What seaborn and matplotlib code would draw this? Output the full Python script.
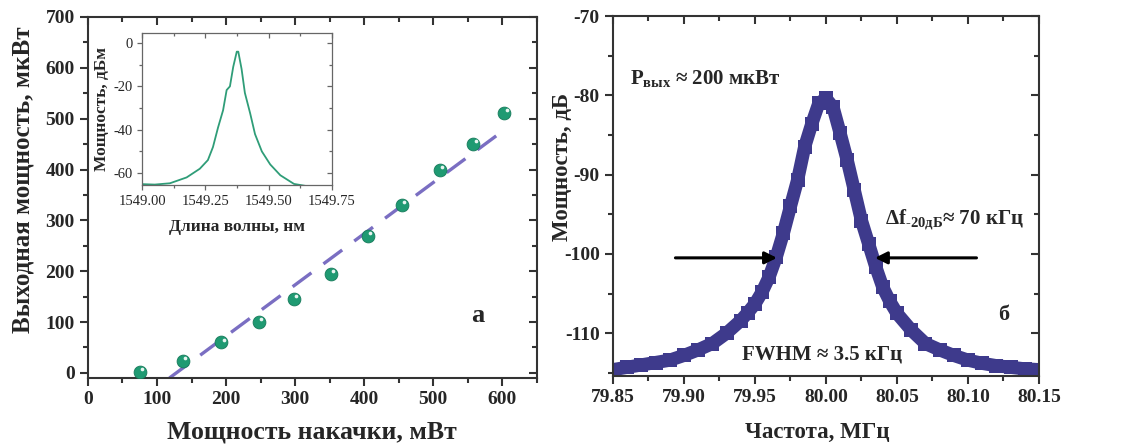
import numpy as np
import pandas as pd
import matplotlib
matplotlib.use("Agg")
import matplotlib.pyplot as plt
import matplotlib.transforms as mtransforms
from matplotlib.ticker import MultipleLocator
import seaborn as sns

# ---------------- data ----------------
pump_mw = [75, 137, 193, 247, 298, 352, 405, 455, 510, 558, 603]
out_uw = [2, 23, 60, 100, 145, 195, 270, 330, 400, 450, 511]
fit_x = [118, 605]
fit_y = [-10, 480]

inset_wl = [1549.00, 1549.05, 1549.11, 1549.176, 1549.228, 1549.26, 1549.28, 1549.30,
            1549.32, 1549.334, 1549.347, 1549.36, 1549.374, 1549.38, 1549.393, 1549.406,
            1549.427, 1549.446, 1549.473, 1549.506, 1549.546, 1549.60, 1549.65, 1549.75]
inset_db = [-65.1, -65.3, -64.7, -62, -58, -54, -48, -39,
            -31, -21.7, -20, -11, -4, -4, -12, -23,
            -32.5, -42, -50, -56, -61, -65, -66, -66]

freq_mhz = [79.850, 79.860, 79.870, 79.880, 79.890, 79.900, 79.910, 79.920, 79.930,
            79.940, 79.945, 79.950, 79.955, 79.960, 79.965, 79.970, 79.975, 79.980,
            79.985, 79.990, 79.995, 80.000, 80.005, 80.010, 80.015, 80.020, 80.025,
            80.030, 80.035, 80.040, 80.045, 80.050, 80.060, 80.070, 80.080, 80.090,
            80.100, 80.110, 80.120, 80.130, 80.140, 80.150]
power_db = [-114.6, -114.3, -114.0, -113.7, -113.4, -112.8, -112.1, -111.3, -110.0,
            -108.4, -107.4, -106.3, -104.8, -102.9, -100.4, -97.4, -94.0, -90.7,
            -86.5, -83.6, -81.0, -80.4, -81.5, -84.8, -88.2, -92.0, -95.8,
            -98.7, -101.6, -104.2, -106.0, -107.5, -109.6, -111.3, -112.1, -112.8,
            -113.4, -113.8, -114.1, -114.3, -114.5, -114.6]

left_xticks = [0, 100, 200, 300, 400, 500, 600]
left_yticks = [0, 100, 200, 300, 400, 500, 600, 700]
inset_xticks = [1549.00, 1549.25, 1549.50, 1549.75]
inset_yticks = [0, -20, -40, -60]
right_xticks = [79.85, 79.90, 79.95, 80.00, 80.05, 80.10, 80.15]
right_yticks = [-70, -80, -90, -100, -110]

# ---------------- style ----------------
sns.set_style("ticks")
plt.rcParams['font.family'] = ['Liberation Serif', 'DejaVu Serif']
plt.rcParams['axes.unicode_minus'] = False
plt.rcParams['mathtext.fontset'] = 'custom'
plt.rcParams['mathtext.rm'] = 'Liberation Serif:bold'
plt.rcParams['mathtext.it'] = 'Liberation Serif:bold'
plt.rcParams['mathtext.bf'] = 'Liberation Serif:bold'

GREEN = '#1f9a72'
PURPLE = '#7a6ec2'
NAVY = '#3e3a8c'
INSET_GREEN = '#2f9d78'

fig = plt.figure(figsize=(11.22, 4.47), dpi=100)
axL = fig.add_axes([0.0784, 0.1544, 0.400, 0.8076])
axR = fig.add_axes([0.5463, 0.1588, 0.3797, 0.8054])
axI = fig.add_axes([0.1266, 0.5861, 0.1693, 0.340])


def style_axes(ax, lw=1.5, color='#333333', major=6, minor=3.5):
    for s in ax.spines.values():
        s.set_linewidth(lw)
        s.set_color(color)
        s.set_visible(True)
    ax.tick_params(which='both', direction='out', top=False, right=False,
                   width=lw, color=color)
    ax.tick_params(which='major', length=major)
    ax.tick_params(which='minor', length=minor)
    ax2x = ax.secondary_xaxis('top')
    ax2y = ax.secondary_yaxis('right')
    for a in (ax2x, ax2y):
        a.tick_params(which='both', direction='in', width=lw, color=color,
                      labeltop=False, labelright=False)
        a.tick_params(which='major', length=major)
        a.tick_params(which='minor', length=minor)
        a.spines[:].set_visible(False)
    ax2x.set_xticks(ax.get_xticks())
    ax2x.set_xticklabels([])
    ax2y.set_yticks(ax.get_yticks())
    ax2y.set_yticklabels([])
    ax2x.xaxis.set_minor_locator(ax.xaxis.get_minor_locator())
    ax2y.yaxis.set_minor_locator(ax.yaxis.get_minor_locator())


# ---------------- left panel ----------------
df_pts = pd.DataFrame({'pump': pump_mw, 'out': out_uw})
df_fit = pd.DataFrame({'x': fit_x, 'y': fit_y})
sns.lineplot(data=df_fit, x='x', y='y', ax=axL, color=PURPLE, linewidth=2.4,
             dashes=False, zorder=2)
axL.lines[-1].set_dashes([7, 4.5])
sns.scatterplot(data=df_pts, x='pump', y='out', ax=axL, color=GREEN, s=85,
                edgecolor='#167a5a', linewidth=0.6, zorder=3)
hl = mtransforms.offset_copy(axL.transData, fig=fig, x=1.7, y=2.0, units='points')
axL.scatter(df_pts['pump'], df_pts['out'], s=7, color='white', alpha=0.9,
            transform=hl, zorder=4, linewidths=0)
axL.set_xlim(0, 650)
axL.set_ylim(-10, 700)
axL.set_xticks(left_xticks)
axL.set_yticks(left_yticks)
axL.xaxis.set_minor_locator(MultipleLocator(50))
axL.yaxis.set_minor_locator(MultipleLocator(50))
axL.tick_params(labelsize=14)
for lab in axL.get_xticklabels() + axL.get_yticklabels():
    lab.set_fontweight('bold')
axL.set_xlabel('Мощность накачки, мВт', fontsize=18.5, fontweight='bold', va='center')
axL.set_ylabel('Выходная мощность, мкВт', fontsize=18, fontweight='bold', va='center')
axL.xaxis.set_label_coords(0.5, -0.15)
axL.yaxis.set_label_coords(-0.145, 0.55)
axL.text(565, 112, 'а', fontsize=19, fontweight='bold', ha='center', va='center')
style_axes(axL)

# ---------------- inset ----------------
df_in = pd.DataFrame({'wl': inset_wl, 'db': inset_db})
sns.lineplot(data=df_in, x='wl', y='db', ax=axI, color=INSET_GREEN, linewidth=1.3)
axI.set_xlim(1549.0, 1549.75)
axI.set_ylim(-65.5, 4.6)
axI.set_xticks(inset_xticks)
axI.set_xticklabels(['1549.00', '1549.25', '1549.50', '1549.75'])
axI.set_yticks(inset_yticks)
axI.xaxis.set_minor_locator(MultipleLocator(0.125))
axI.yaxis.set_minor_locator(MultipleLocator(10))
axI.tick_params(labelsize=10.5)
axI.set_xlabel('Длина волны, нм', fontsize=12.5, fontweight='bold', labelpad=8)
axI.set_ylabel('Мощность, дБм', fontsize=12.5, fontweight='bold', labelpad=2)
style_axes(axI, lw=0.9, color='#666666', major=3.5, minor=2)

# ---------------- right panel ----------------
df_r = pd.DataFrame({'f': freq_mhz, 'p': power_db})
sns.lineplot(data=df_r, x='f', y='p', ax=axR, color=NAVY, linewidth=9.5,
             marker='s', markersize=9.5, markeredgewidth=0, zorder=2)
axR.set_xlim(79.85, 80.15)
axR.set_ylim(-115.4, -70)
axR.set_xticks(right_xticks)
axR.set_xticklabels(['79.85', '79.90', '79.95', '80.00', '80.05', '80.10', '80.15'])
axR.set_yticks(right_yticks)
axR.xaxis.set_minor_locator(MultipleLocator(0.025))
axR.yaxis.set_minor_locator(MultipleLocator(5))
axR.tick_params(labelsize=14)
for lab in axR.get_xticklabels() + axR.get_yticklabels():
    lab.set_fontweight('bold')
axR.set_xlabel('Частота, МГц', fontsize=16.5, fontweight='bold', va='center')
axR.set_ylabel('Мощность, дБ', fontsize=16.5, fontweight='bold', va='center')
axR.xaxis.set_label_coords(0.48, -0.158)
axR.yaxis.set_label_coords(-0.118, 0.58)

axR.text(79.862, -77.9, r'P$_{\mathrm{вых}}$ ≈ 200 мкВт', fontsize=15,
         fontweight='bold', ha='left', va='center')
axR.text(80.0415, -95.7, r'Δf$_{\mathrm{\text{-}20дБ}}$≈ 70 кГц', fontsize=15,
         fontweight='bold', ha='left', va='center')
axR.text(79.941, -112.7, 'FWHM ≈ 3.5 кГц', fontsize=15, fontweight='bold',
         ha='left', va='center', zorder=5)
axR.text(80.125, -107.7, 'б', fontsize=16, fontweight='bold', ha='center', va='center')
arrow_kw = dict(arrowstyle='-|>', color='black', lw=2.2, mutation_scale=18,
                shrinkA=0, shrinkB=0)
axR.annotate('', xy=(79.9655, -100.5), xytext=(79.894, -100.5),
             arrowprops=arrow_kw, zorder=6)
axR.annotate('', xy=(80.0345, -100.5), xytext=(80.106, -100.5),
             arrowprops=arrow_kw, zorder=6)
style_axes(axR)

fig.savefig('out.png', dpi=100)
